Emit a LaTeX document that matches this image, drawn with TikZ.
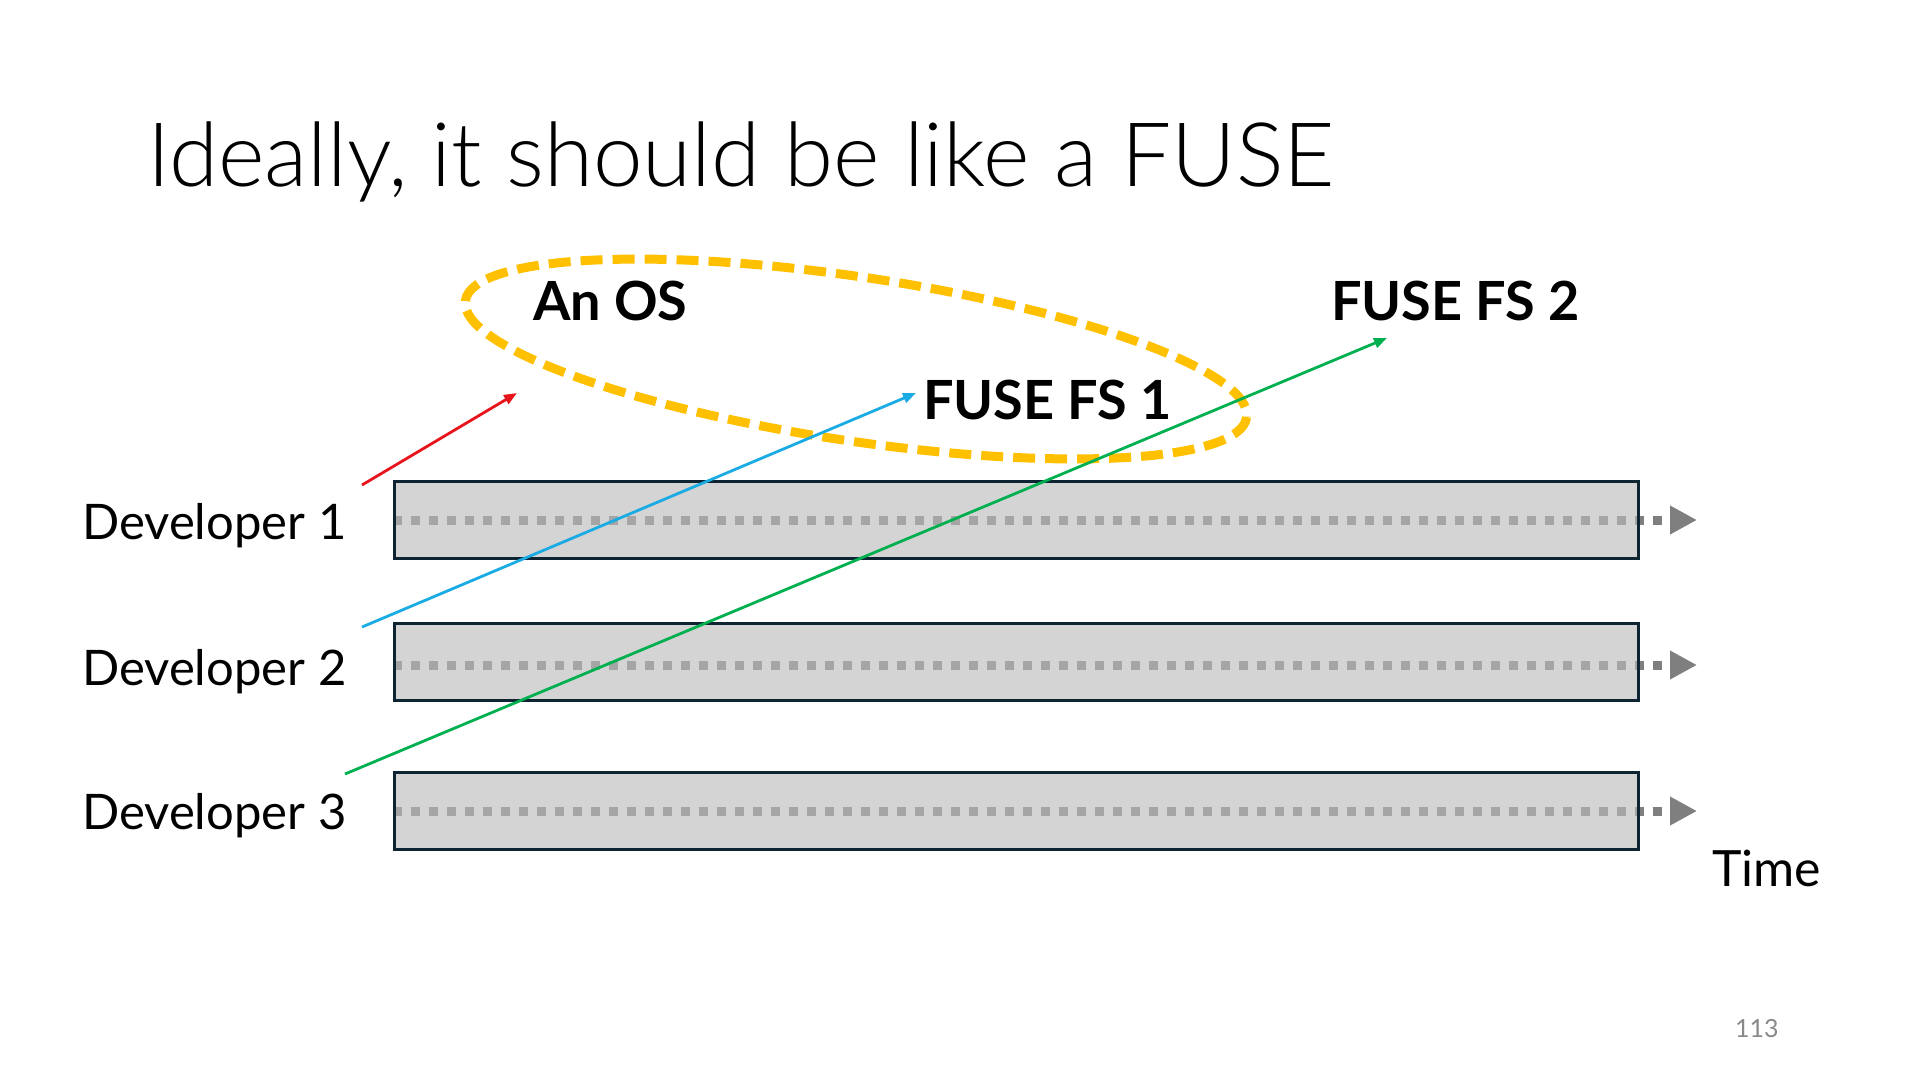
\documentclass[tikz,border=0pt]{standalone}
\usepackage{fontspec}
\setmainfont{Lato}
\newfontfamily\lightfont{Lato Light}
\usetikzlibrary{arrows.meta,positioning}
\pgfdeclarelayer{bg}
\pgfsetlayers{bg,main}
\definecolor{lanefill}{HTML}{BBBBBB}
\definecolor{laneline}{HTML}{0E2433}
\definecolor{dotgray}{HTML}{7F7F7F}
\definecolor{osred}{HTML}{E8141B}
\definecolor{fsblue}{HTML}{1AABE3}
\definecolor{fsgreen}{HTML}{00B050}
\definecolor{gold}{HTML}{FFC000}
\definecolor{pagegray}{HTML}{898989}

\begin{document}
\begin{tikzpicture}[x=1pt, y=-1pt, lane/.style={draw=laneline, line width=3pt, fill=lanefill, fill opacity=0.64, minimum width=1244pt, minimum height=77pt, inner sep=0pt
}, tl/.style={dotgray, line width=9pt, dash pattern=on 9pt off 9pt, -{Triangle[length=27pt, width=27pt]}
}, dev/.style={anchor=base west, inner sep=0pt, font=\fontsize{49}{58}\selectfont
}, lbl/.style={anchor=base west, inner sep=0pt, font=\fontsize{54}{64}\selectfont\bfseries
}, myto/.style={line width=2.8pt, -{Triangle[length=13pt, width=10pt]}
}]
\useasboundingbox (0,0) rectangle (1920,1080);

\node[anchor=base west, inner sep=0pt, font=\lightfont\fontsize{89}{106}\selectfont] (title) at (147,186) {Ideally, it should be like a FUSE};

% lanes with their time lines
\foreach \i/\y/\l/\b in {1/520/520/539,2/662/665/685,3/811/811/829}{
\node[lane] (box\i) at (1016,\y) {};
\coordinate (s\i) at (box\i.west |- 0,\l);
\coordinate (t\i) at (1697,\l);
\begin{pgfonlayer}{bg}\draw[tl] (s\i) -- (t\i);\end{pgfonlayer}
\node[dev] (dev\i) at (82,\b) {Developer \i};
}
\node[dev, font=\fontsize{50}{60}\selectfont] (time) at (1712,886) {Time};

\draw[gold, line width=9pt, dash pattern=on 22pt off 10pt, rotate around={-8.5:(856,359)}] (856,359) ellipse [x radius=395, y radius=82];

\node[lbl] (os) at (533,320) {An OS};
\node[lbl] (fs1) at (923,419) {FUSE FS 1};
\node[lbl] (fs2) at (1331,320) {FUSE FS 2};

\coordinate (a1) at (362,485);
\coordinate (a2) at (362,627);
\coordinate (a3) at (345,774);
\coordinate (e1) at (517,393);
\coordinate (e2) at (916,393);
\coordinate (e3) at (1387,338);
\foreach \i/\c in {1/osred,2/fsblue,3/fsgreen}{\draw[myto, \c] (a\i) -- (e\i);}

\node[anchor=base west, inner sep=0pt, pagegray, font=\fontsize{25}{30}\selectfont] (page) at (1735,1037) {113};
\end{tikzpicture}
\end{document}
